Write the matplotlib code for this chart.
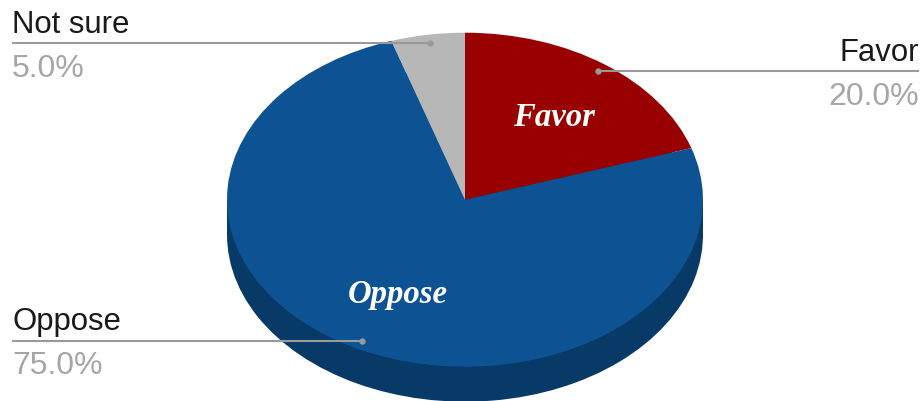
import matplotlib
matplotlib.use("Agg")
import matplotlib.pyplot as plt
from matplotlib.patches import Rectangle

categories = ["Favor", "Oppose", "Not sure"]
values = [20.0, 75.0, 5.0]
top_colors = ["#990000", "#0d5394", "#b7b7b7"]
side_colors = ["#6b0000", "#083a68", "#808080"]

W, H = 923, 402
CX, CY, RX, RY, DEPTH = 465, 200.7, 238, 167, 35

fig = plt.figure(figsize=(W / 100, H / 100), dpi=100, facecolor="white")


def pie_axes(cy):
    ax = fig.add_axes([(CX - RX) / W, 1 - (cy + RY) / H, 2 * RX / W, 2 * RY / H])
    return ax


def draw_pie(ax, colors):
    ax.pie(values, colors=colors, startangle=90, counterclock=False, radius=1,
           wedgeprops=dict(linewidth=0))
    ax.set_aspect("auto")
    ax.set_xlim(-1, 1)
    ax.set_ylim(-1, 1)
    ax.patch.set_alpha(0)


# Side wall: the same pie, lower down, joined to the top by a band
side = pie_axes(CY + DEPTH)
draw_pie(side, side_colors)
overlay = fig.add_axes([0, 0, 1, 1])
overlay.set_xlim(0, W)
overlay.set_ylim(H, 0)
overlay.axis("off")
overlay.add_patch(Rectangle((CX - RX, CY), 2 * RX, DEPTH, color=side_colors[1], lw=0))

top = pie_axes(CY)
draw_pie(top, top_colors)

ann = fig.add_axes([0, 0, 1, 1])
ann.set_xlim(0, W)
ann.set_ylim(H, 0)
ann.axis("off")
ann.patch.set_alpha(0)

FONT = ["Liberation Sans", "DejaVu Sans"]
LINE = "#999999"
leaders = {
    "Favor": dict(x0=598, x1=918.5, y=72.2, ha="right"),
    "Oppose": dict(x0=362, x1=12, y=341.5, ha="left"),
    "Not sure": dict(x0=430, x1=12, y=44, ha="left"),
}
inside = {"Favor": (554, 117), "Oppose": (398, 295), "Not sure": None}

for name, val in zip(categories, values):
    l = leaders[name]
    ann.plot([l["x0"], l["x1"]], [l["y"], l["y"]], color=LINE, lw=1.5, solid_capstyle="butt")
    ann.plot([l["x0"]], [l["y"]], "o", color=LINE, ms=4.6, mew=0)
    ann.text(l["x1"], l["y"] - 11, name, ha=l["ha"], va="baseline", fontsize=22.4,
             color="#1a1a1a", family=FONT)
    ann.text(l["x1"], l["y"] + 33, f"{val:.1f}%", ha=l["ha"], va="baseline", fontsize=23,
             color="#a6a6a6", family=FONT)
    if inside[name]:
        x, y = inside[name]
        ann.text(x, y, name, ha="center", va="center", fontsize=23.6, color="white",
                 family="Liberation Serif", style="italic", weight="bold")

fig.savefig("out.png", dpi=100, facecolor="white")
